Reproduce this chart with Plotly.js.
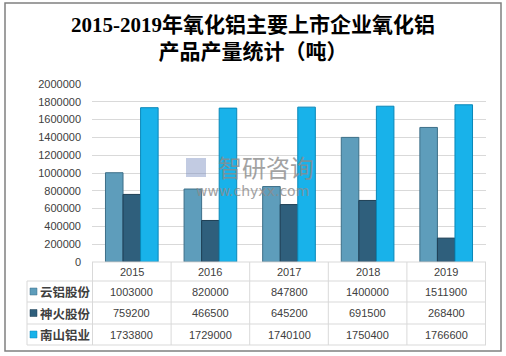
<!DOCTYPE html>
<html><head><meta charset="utf-8">
<script src="https://cdn.plot.ly/plotly-3.0.1.min.js"></script>
<style>html,body{margin:0;padding:0;background:#fff}#chart{width:506px;height:356px}</style>
</head><body><div id="chart"></div>
<script>
const years = ['2015','2016','2017','2018','2019'];
const seriesNames = ['云铝股份','神火股份','南山铝业'];
const yunlv = [1003000, 820000, 847800, 1400000, 1511900];
const shenhuo = [759200, 466500, 645200, 691500, 268400];
const nanshan = [1733800, 1729000, 1740100, 1750400, 1766600];
const yTicks = [0,200000,400000,600000,800000,1000000,1200000,1400000,1600000,1800000,2000000];

const W = 506, H = 356;
const L = 92, R = 20, T = 84, B = 94;
const pw = W - L - R, ph = H - T - B;
const px = X => (X - L) / pw;
const py = Y => (H - B - Y) / ph;

const fills = ['#5e9dbb', '#2f5f7c', '#18b2ea'];
const lines = ['#3d6f88', '#1e3f55', '#0a87b8'];
const allVals = [yunlv, shenhuo, nanshan];

const traces = allVals.map((v, i) => ({
  type: 'bar', x: years, y: v, name: seriesNames[i],
  marker: {color: fills[i], line: {color: lines[i], width: 1}},
  showlegend: false, hoverinfo: 'none'
}));

const shapes = [];
const annotations = [];
const gridC = '#d9d9d9';
shapes.push({type:'rect', xref:'paper', yref:'paper', x0:px(5), x1:px(501), y0:py(351), y1:py(3), line:{color:'#808080', width:1.5}, layer:'below'});
const rowY = [262, 281, 302, 324, 345];
rowY.forEach((Y, k) => {
  shapes.push({type:'line', xref:'paper', yref:'paper', x0: k === 0 ? 0 : px(27), x1:1, y0:py(Y), y1:py(Y), line:{color:gridC, width:1}});
});
for (let i = 0; i <= years.length; i++) {
  shapes.push({type:'line', xref:'x', yref:'paper', x0:i-0.5, x1:i-0.5, y0:py(262), y1:py(345), line:{color:gridC, width:1}});
}
shapes.push({type:'line', xref:'paper', yref:'paper', x0:px(27), x1:px(27), y0:py(281), y1:py(345), line:{color:gridC, width:1}});

const tf = {family:'Liberation Sans, Arial, sans-serif', size:11, color:'#404040'};
years.forEach((yr, i) => {
  annotations.push({xref:'x', yref:'paper', x:i, y:py(271.5), text:yr, showarrow:false, font:tf, xanchor:'center', yanchor:'middle'});
});
const rowC = [291.5, 313, 334.5];
allVals.forEach((v, s) => {
  v.forEach((val, i) => {
    annotations.push({xref:'x', yref:'paper', x:i, y:py(rowC[s]), text:String(val), showarrow:false, font:tf, xanchor:'center', yanchor:'middle'});
  });
  shapes.push({type:'rect', xref:'paper', yref:'paper', x0:px(30), x1:px(37), y0:py(rowC[s]+3.5), y1:py(rowC[s]-3.5), fillcolor:fills[s], line:{color:lines[s], width:0.5}});
  annotations.push({xref:'paper', yref:'paper', x:px(38), y:py(rowC[s]), text:seriesNames[s], showarrow:false, xanchor:'left', yanchor:'middle',
    font:{family:'Noto Sans CJK SC, sans-serif', size:12.5, color:'#404040', weight:'bold'}});
});
// watermark
annotations.push({xref:'paper', yref:'paper', x:px(266), y:py(166), text:'智研咨询', showarrow:false, xanchor:'center', yanchor:'middle', opacity:0.8,
  font:{family:'Noto Sans CJK SC, sans-serif', size:24, color:'#8c8c8c'}});
annotations.push({xref:'paper', yref:'paper', x:px(252), y:py(191), text:'www.chyxx.com', showarrow:false, xanchor:'center', yanchor:'middle', opacity:0.8,
  font:{family:'DejaVu Sans, sans-serif', size:14, color:'#8c8c8c'}});
shapes.push({type:'rect', xref:'paper', yref:'paper', x0:px(186), x1:px(206), y0:py(177), y1:py(158), fillcolor:'rgba(120,140,190,0.45)', line:{width:0}});

const layout = {
  width: W, height: H,
  margin: {l:L, r:R, t:T, b:B, pad:0},
  paper_bgcolor: '#fff', plot_bgcolor: '#fff',
  title: {text:'2015-2019年氧化铝主要上市企业氧化铝<br>产品产量统计（吨）', x:0.5, xanchor:'center', yref:'container', y:1 - 32/H, yanchor:'top',
    font:{family:'Liberation Serif, Noto Sans CJK SC, serif', size:21, color:'#000', weight:'bold'}},
  barmode: 'group', bargap: 0.33, bargroupgap: 0,
  xaxis: {type:'category', showticklabels:false, showgrid:false, zeroline:false, showline:false, ticks:'', fixedrange:true},
  yaxis: {range:[0, 2000000], tickvals:yTicks, ticktext:yTicks.map(String), showgrid:true, gridcolor:gridC, gridwidth:1,
    zeroline:false, showline:false, ticks:'', ticklabelstandoff:10,
    tickfont:{family:'Liberation Sans, Arial, sans-serif', size:11, color:'#404040'}},
  shapes: shapes, annotations: annotations
};
Plotly.newPlot('chart', traces, layout, {staticPlot:true, displayModeBar:false});
</script></body></html>
